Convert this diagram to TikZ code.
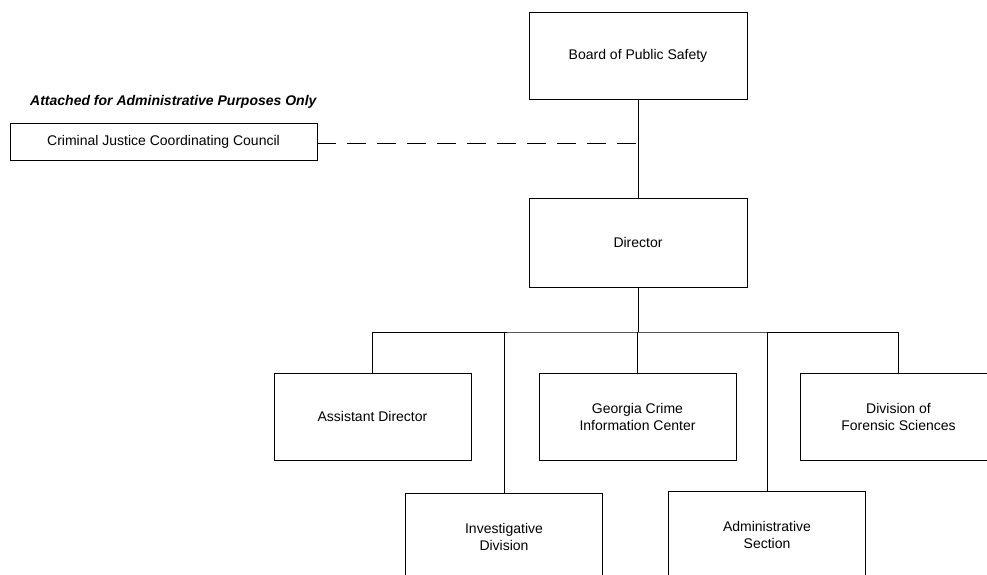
\documentclass[tikz,border=0pt]{standalone}
\usepackage{fontspec}
\setmainfont{Liberation Sans}
\begin{document}
\begin{tikzpicture}[x=1pt,y=-1pt,
  box/.style={draw=black, line width=0.9pt, align=center, inner sep=0pt,
    font=\fontsize{14}{17}\selectfont},
  bigbox/.style={box, minimum width=218pt, minimum height=87pt},
  unitbox/.style={box, minimum width=197pt, minimum height=87pt},
  link/.style={draw=black, line width=0.9pt}]
\useasboundingbox (0,0) rectangle (987,575);
\clip (0,0) rectangle (987,575);

\node[bigbox] (board) at (638,55.5) {Board of Public Safety};
\node[bigbox, minimum height=89pt] (dir) at (638,242.5) {Director};
\node[box, minimum width=307pt, minimum height=37pt] (cjcc) at (163.5,141.5) {Criminal Justice Coordinating Council};
\node[anchor=west, inner sep=0pt, font=\fontsize{14}{17}\selectfont\bfseries\itshape] (attlbl) at (30,102) {Attached for Administrative Purposes Only};

\node[unitbox] (asst) at (372.5,416.5) {Assistant Director};
\node[unitbox] (gcic) at (637.5,416.5) {Georgia Crime\\Information Center};
\node[unitbox] (dfs) at (898.5,416.5) {Division of\\Forensic Sciences};
\node[unitbox] (inv) at (504,536.5) {Investigative\\Division};
\node[unitbox] (adm) at (767,534.5) {Administrative\\Section};

\coordinate (bus) at (638,332);
\coordinate (att) at (638,143.5);

\draw[link] (board.south) -- (dir.south |- board.south) -- (dir.north);
\draw[link, dash pattern=on 19pt off 11pt] (cjcc.east |- att) -- (att);
\draw[link] (dir.south) -- (bus);
\draw[link] (asst.north) |- (bus) -| (dfs.north);
\draw[link] (gcic.north) -- (gcic.north |- bus);
\draw[link] (inv.north) -- (inv.north |- bus);
\draw[link] (adm.north) -- (adm.north |- bus);
\end{tikzpicture}
\end{document}
